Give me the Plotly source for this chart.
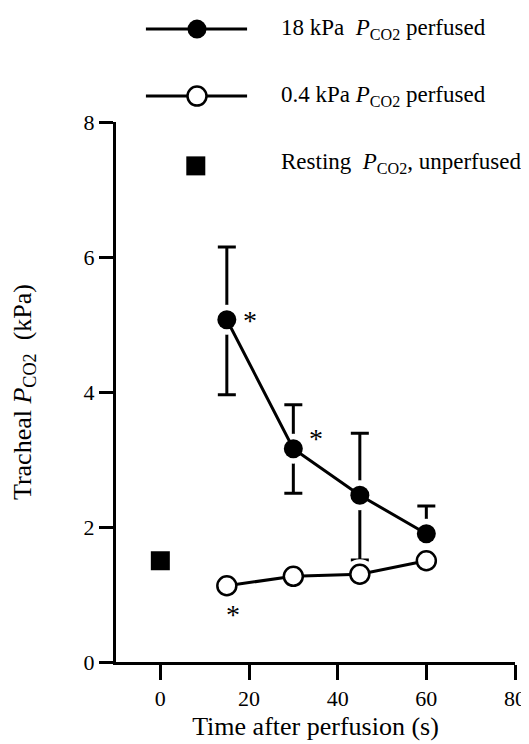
import plotly.graph_objects as go

# Data
time_s = [15, 30, 45, 60]
high_pco2 = [5.07, 3.16, 2.47, 1.90]
high_err_plus = [1.08, 0.65, 0.92, 0.41]
high_err_minus = [1.11, 0.66, 0.96, 0.40]
low_pco2 = [1.13, 1.27, 1.30, 1.50]
rest_time = [0]
rest_pco2 = [1.50]
legend_square_x = [8]
legend_square_y = [7.35]
star_x = [20.2, 35.2, 16.3]
star_y = [5.16, 3.42, 0.81]

FONT = "Liberation Serif"
FS = 22
fig = go.Figure()

# error bars (behind everything)
fig.add_trace(go.Scatter(
    x=time_s, y=high_pco2, mode="markers",
    marker=dict(size=1, color="rgba(0,0,0,0)"),
    error_y=dict(type="data", array=high_err_plus, arrayminus=high_err_minus,
                 color="black", thickness=3, width=9),
    showlegend=False, hoverinfo="skip"))

# white halos producing gaps round markers
fig.add_trace(go.Scatter(
    x=time_s + time_s, y=high_pco2 + low_pco2, mode="markers",
    marker=dict(size=30, color="white", line=dict(width=0)),
    showlegend=False, hoverinfo="skip"))

fig.add_trace(go.Scatter(
    x=time_s, y=high_pco2, mode="lines+markers", name="18 kPa",
    line=dict(color="black", width=3),
    marker=dict(size=19, color="black", line=dict(width=0)),
    showlegend=False))

fig.add_trace(go.Scatter(
    x=time_s, y=low_pco2, mode="lines+markers", name="0.4 kPa",
    line=dict(color="black", width=3),
    marker=dict(size=19, color="white", line=dict(color="black", width=2.5)),
    showlegend=False))

fig.add_trace(go.Scatter(
    x=rest_time + legend_square_x, y=rest_pco2 + legend_square_y, mode="markers",
    marker=dict(size=19, color="black", symbol="square", line=dict(width=0)),
    showlegend=False, cliponaxis=False))

# asterisks
for sx, sy in zip(star_x, star_y):
    fig.add_annotation(x=sx, y=sy, text="*", showarrow=False,
                       font=dict(family=FONT, size=28, color="black"), yshift=-7)

# legend drawn manually above the plot
leg_y = [1.172, 1.048]
for i, ly in enumerate(leg_y):
    fig.add_shape(type="line", xref="paper", yref="paper",
                  x0=0.075, x1=0.3285, y0=ly, y1=ly,
                  line=dict(color="black", width=3))
    fig.add_shape(type="circle", xref="paper", yref="paper",
                  xsizemode="pixel", ysizemode="pixel",
                  xanchor=0.203, yanchor=ly, x0=-9.5, x1=9.5, y0=-9.5, y1=9.5,
                  fillcolor="black" if i == 0 else "white",
                  line=dict(color="black", width=0 if i == 0 else 2.5))

legend_texts = ["18 kPa  <i>P</i><sub>CO2</sub> perfused",
                "0.4 kPa <i>P</i><sub>CO2</sub> perfused",
                "Resting  <i>P</i><sub>CO2</sub>, unperfused"]
legend_text_y = [1.172, 1.048, 0.924]
for t, ty in zip(legend_texts, legend_text_y):
    fig.add_annotation(xref="paper", yref="paper", x=0.408, y=ty, text=t,
                       showarrow=False, xanchor="left", yanchor="middle",
                       font=dict(family=FONT, size=23, color="black"))

fig.update_layout(
    width=529, height=744,
    margin=dict(l=104, r=11, t=114, b=90),
    paper_bgcolor="white", plot_bgcolor="white",
    font=dict(family=FONT, size=FS, color="black"),
    showlegend=False,
    xaxis=dict(range=[-10, 80], tickvals=[0, 20, 40, 60, 80],
               showgrid=False, zeroline=False,
               showline=True, linecolor="black", linewidth=3,
               ticks="outside", ticklen=15, tickwidth=3, tickcolor="black",
               ticklabeloverflow="allow",
               title=dict(text="Time after perfusion (s)", standoff=7)),
    yaxis=dict(range=[0, 8], tickvals=[0, 2, 4, 6, 8],
               showgrid=False, zeroline=False,
               showline=True, linecolor="black", linewidth=3,
               ticks="outside", ticklen=14, tickwidth=3, tickcolor="black",
               title=dict(text="Tracheal <i>P</i><sub>CO2</sub>  (kPa)", standoff=46)),
)

fig.write_html("out.html")
